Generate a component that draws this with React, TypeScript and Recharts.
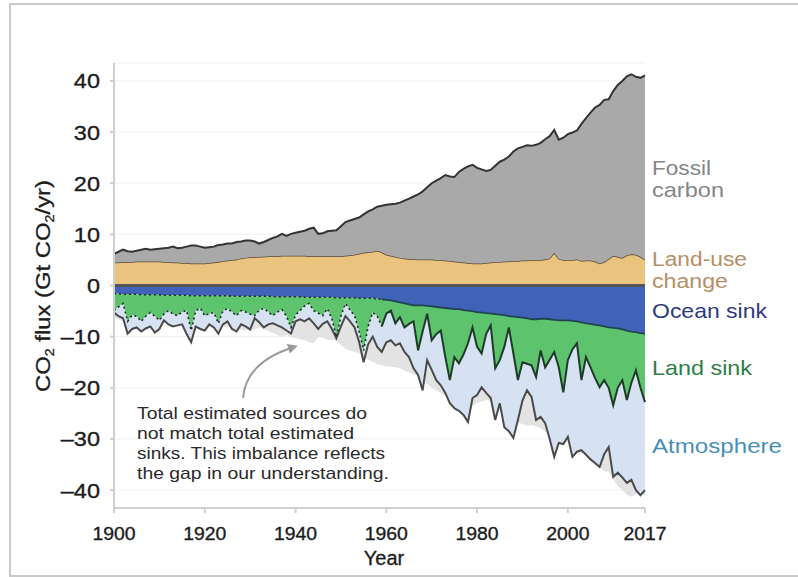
import React from 'react';
import { ComposedChart, Area, Line, XAxis, YAxis, CartesianGrid, ReferenceLine } from 'recharts';

const FONT = '"Liberation Sans", Arial, Helvetica, sans-serif';

const firstYear = 1900;
const directObsYear = 1959;
const xTicks = [1900, 1920, 1940, 1960, 1980, 2000, 2017];
const yTicks = [40, 30, 20, 10, 0, -10, -20, -30, -40];

// Gt CO2 / yr, 1900..2017
const landUseChange = [
  4.5, 4.5, 4.6, 4.6, 4.6, 4.7, 4.7, 4.7, 4.7, 4.7,
  4.7, 4.6, 4.6, 4.5, 4.5, 4.4, 4.4, 4.3, 4.3, 4.3,
  4.3, 4.4, 4.5, 4.6, 4.8, 4.9, 5.0, 5.1, 5.3, 5.4,
  5.5, 5.5, 5.6, 5.6, 5.7, 5.7, 5.7, 5.8, 5.8, 5.8,
  5.8, 5.8, 5.8, 5.7, 5.7, 5.7, 5.7, 5.7, 5.7, 5.7,
  5.7, 5.8, 5.9, 6.0, 6.2, 6.4, 6.5, 6.6, 6.8, 6.5,
  6.0, 5.8, 5.6, 5.4, 5.3, 5.2, 5.2, 5.1, 5.1, 5.1,
  5.1, 5.0, 5.0, 4.9, 4.8, 4.7, 4.6, 4.5, 4.4, 4.3,
  4.3, 4.3, 4.4, 4.5, 4.6, 4.6, 4.7, 4.7, 4.8, 4.8,
  4.9, 4.9, 5.0, 5.0, 5.0, 5.1, 5.3, 6.4, 5.2, 5.0,
  5.0, 5.0, 5.1, 4.8, 4.9, 4.9, 4.7, 4.3, 4.6, 5.2,
  5.8, 5.6, 5.4, 5.9, 6.1, 6.0, 5.6, 5.0,
];

const fossilCarbon = [
  1.7, 2.1, 2.4, 2.1, 2.0, 2.1, 2.3, 2.5, 2.3, 2.4,
  2.5, 2.7, 2.8, 3.1, 2.8, 3.0, 3.2, 3.5, 3.5, 3.3,
  3.1, 3.1, 3.1, 3.3, 3.2, 3.3, 3.2, 3.4, 3.3, 3.4,
  3.3, 3.1, 2.6, 2.9, 3.2, 3.6, 3.9, 4.3, 3.9, 4.3,
  4.5, 4.7, 4.9, 5.4, 5.6, 4.4, 4.5, 4.9, 5.0, 5.1,
  5.9, 6.6, 6.8, 7.0, 7.1, 7.5, 8.0, 8.3, 8.6, 9.1,
  9.8, 10.1, 10.4, 10.8, 11.3, 11.8, 12.2, 12.7, 13.3, 14.1,
  14.9, 15.5, 16.0, 16.7, 16.5, 16.5, 17.6, 18.3, 18.9, 19.3,
  18.7, 18.4, 18.0, 18.1, 18.8, 19.6, 19.9, 20.5, 21.4, 22.0,
  22.2, 22.5, 22.3, 22.5, 22.9, 23.5, 23.9, 24.0, 23.3, 23.9,
  24.6, 24.9, 25.2, 26.8, 27.8, 28.9, 30.1, 31.0, 31.7, 31.2,
  32.2, 33.6, 34.6, 35.0, 35.2, 34.8, 35.0, 36.1,
];

const oceanSink = [
  -1.6, -1.6, -1.7, -1.7, -1.7, -1.7, -1.8, -1.8, -1.8, -1.8,
  -1.8, -1.9, -1.9, -1.9, -1.9, -1.9, -1.9, -2.0, -2.0, -2.0,
  -2.0, -2.0, -2.0, -2.0, -2.0, -2.0, -2.1, -2.1, -2.1, -2.1,
  -2.1, -2.1, -2.1, -2.1, -2.1, -2.2, -2.2, -2.2, -2.2, -2.2,
  -2.2, -2.2, -2.3, -2.3, -2.3, -2.3, -2.3, -2.3, -2.3, -2.4,
  -2.4, -2.4, -2.4, -2.4, -2.5, -2.5, -2.5, -2.5, -2.6, -2.7,
  -2.8, -2.9, -3.1, -3.3, -3.5, -3.7, -3.9, -3.9, -3.9, -4.0,
  -4.1, -4.2, -4.3, -4.4, -4.5, -4.6, -4.6, -4.8, -4.9, -5.0,
  -5.2, -5.3, -5.4, -5.5, -5.6, -5.7, -5.8, -6.0, -6.1, -6.2,
  -6.3, -6.4, -6.6, -6.6, -6.5, -6.5, -6.6, -6.7, -6.8, -6.8,
  -6.8, -6.9, -7.0, -7.2, -7.4, -7.5, -7.7, -7.8, -8.0, -8.2,
  -8.3, -8.4, -8.6, -8.8, -9.0, -9.1, -9.3, -9.4,
];

const landSink = [
  -3.3, -2.6, -1.8, -5.3, -4.1, -4.3, -5.2, -4.2, -3.5, -4.2,
  -5.0, -3.7, -3.0, -3.7, -4.0, -3.3, -3.0, -6.8, -3.0, -2.4,
  -3.9, -3.5, -3.3, -5.4, -3.0, -2.5, -3.1, -3.8, -2.8, -3.1,
  -3.5, -3.8, -2.7, -2.4, -3.1, -3.7, -3.0, -2.5, -3.8, -6.0,
  -3.6, -2.7, -1.7, -1.2, -2.6, -3.1, -3.6, -2.2, -4.2, -7.7,
  -3.6, -1.1, -2.4, -3.5, -6.5, -10.2, -5.5, -2.8, -3.4, -5.3,
  -2.7, -2.0, -4.3, -2.9, -4.7, -3.8, -3.1, -8.8, -5.1, -1.5,
  -6.6, -5.3, -4.5, -9.6, -14.0, -9.4, -10.6, -8.7, -6.4, -3.2,
  -6.8, -8.0, -4.1, -2.3, -10.6, -8.9, -6.2, -2.2, -7.2, -12.3,
  -8.7, -8.9, -9.0, -11.3, -6.2, -9.5, -7.9, -6.3, -9.2, -14.1,
  -7.8, -5.6, -4.3, -11.3, -6.6, -8.5, -10.4, -12.1, -10.5, -11.8,
  -15.1, -11.6, -9.9, -13.6, -10.0, -7.5, -10.7, -13.4,
];

const atmosphere = [
  -0.4, -1.8, -2.9, -2.4, -2.7, -2.2, -2.0, -2.4, -2.7, -3.2,
  -1.7, -1.2, -2.7, -2.4, -1.9, -2.4, -4.6, -2.3, -3.0, -4.1,
  -2.9, -2.1, -2.9, -2.0, -2.6, -2.5, -3.3, -3.1, -2.7, -2.8,
  -3.0, -0.5, -2.4, -3.7, -2.4, -1.5, -2.6, -3.5, -2.8, -1.2,
  -1.2, -1.7, -3.0, -2.9, -2.5, -3.1, -1.6, -2.5, -2.0, -0.2,
  -2.0, -2.5, -2.2, -2.3, -2.0, -2.3, -3.5, -4.7, -6.0, -5.0,
  -5.6, -5.8, -4.3, -5.1, -4.8, -6.5, -9.2, -4.8, -11.5, -9.1,
  -5.8, -9.0, -10.7, -7.0, -4.5, -10.0, -9.3, -11.8, -15.4, -13.8,
  -9.4, -6.6, -11.5, -14.2, -10.1, -8.4, -15.7, -20.3, -16.5, -7.8,
  -7.5, -5.2, -6.2, -8.4, -13.0, -10.9, -15.5, -20.5, -14.8, -10.1,
  -15.0, -21.0, -21.2, -13.7, -19.1, -18.0, -16.6, -15.6, -14.5, -11.6,
  -14.0, -16.6, -19.0, -16.2, -19.0, -23.4, -21.0, -17.2,
];

const data = landUseChange.map((lu, i) => {
  const year = firstYear + i;
  const oceanEdge = oceanSink[i];
  const landEdge = oceanSink[i] + landSink[i];
  return {
    year,
    landUse: lu,
    fossil: fossilCarbon[i],
    ocean: oceanSink[i],
    land: landSink[i],
    atmos: atmosphere[i],
    imbalance: -(lu + fossilCarbon[i]),
    oceanEarly: year <= directObsYear ? oceanEdge : null,
    oceanLate: year >= directObsYear ? oceanEdge : null,
    landEarly: year <= directObsYear ? landEdge : null,
    landLate: year >= directObsYear ? landEdge : null,
  };
});

const fmtY = (v: number) => (v < 0 ? '\u2013' + Math.abs(v) : String(v));

const YTick = (props: any) => {
  const { x, y, payload } = props;
  return (
    <text
      x={x}
      y={y}
      dy="0.355em"
      textAnchor="end"
      fontSize={21}
      fontFamily={FONT}
      fill="#1c1c1c"
      stroke="#1c1c1c"
      strokeWidth={0.35}
      transform={`translate(${x} 0) scale(1.12 1) translate(${-x} 0)`}
    >
      {fmtY(payload.value)}
    </text>
  );
};

const XTick = (props: any) => {
  const { x, y, payload } = props;
  return (
    <text
      x={x}
      y={y}
      dy="0.71em"
      textAnchor="middle"
      fontSize={18.5}
      fontFamily={FONT}
      fill="#1c1c1c"
      stroke="#1c1c1c"
      strokeWidth={0.35}
      transform={`translate(${x} 0) scale(1.05 1) translate(${-x} 0)`}
    >
      {payload.value}
    </text>
  );
};

export default function App() {
  return (
    <div style={{ position: 'absolute', left: 0, top: 0, width: 798, height: 577, background: '#fff', overflow: 'hidden' }}>
      <div
        style={{
          position: 'absolute',
          left: 9,
          top: 3,
          width: 800,
          height: 570,
          borderTop: '2px solid #c9c9c9',
          borderLeft: '2px solid #c9c9c9',
          borderBottom: '2px solid #c9c9c9',
        }}
      />
      <div style={{ position: 'absolute', left: 0, top: 0 }}>
        <ComposedChart
          width={798}
          height={577}
          data={data}
          stackOffset="sign"
          margin={{ top: 63, right: 153, bottom: 29, left: 54 }}
        >
          <CartesianGrid horizontal vertical={false} stroke="#f1f1f1" />
          <XAxis
            dataKey="year"
            type="number"
            domain={[1900, 2017]}
            ticks={xTicks}
            interval={0}
            height={40}
            stroke="#cfcfcf"
            strokeWidth={2}
            tickSize={5}
            tickMargin={14}
            tick={<XTick />}
          />
          <YAxis
            type="number"
            domain={[-43.5, 43.5]}
            ticks={yTicks}
            interval={0}
            width={60}
            stroke="#cfcfcf"
            strokeWidth={2}
            tickSize={4}
            tickMargin={10}
            tick={<YTick />}
          />
          <Area type="linear" dataKey="imbalance" fill="#e3e3e3" fillOpacity={1} stroke="none" isAnimationActive={false} dot={false} activeDot={false} />
          <Area type="linear" dataKey="landUse" stackId="s" fill="#eac47f" fillOpacity={1} stroke="#5a4832" strokeWidth={1.5} isAnimationActive={false} dot={false} activeDot={false} />
          <Area type="linear" dataKey="fossil" stackId="s" fill="#a9a9a9" fillOpacity={1} stroke="#333" strokeWidth={2} isAnimationActive={false} dot={false} activeDot={false} />
          <Area type="linear" dataKey="ocean" stackId="s" fill="#4062b8" fillOpacity={1} stroke="none" isAnimationActive={false} dot={false} activeDot={false} />
          <Area type="linear" dataKey="land" stackId="s" fill="#5dc46d" fillOpacity={1} stroke="none" isAnimationActive={false} dot={false} activeDot={false} />
          <Area type="linear" dataKey="atmos" stackId="s" fill="#d6e2f1" fillOpacity={1} stroke="#4a4a4a" strokeWidth={2} isAnimationActive={false} dot={false} activeDot={false} />
          <Line type="linear" dataKey="oceanEarly" stroke="#1d2a24" strokeWidth={1.6} strokeDasharray="2 3" dot={false} activeDot={false} isAnimationActive={false} connectNulls={false} />
          <Line type="linear" dataKey="oceanLate" stroke="#1f4650" strokeWidth={1.8} dot={false} activeDot={false} isAnimationActive={false} connectNulls={false} />
          <Line type="linear" dataKey="landEarly" stroke="#1d2a24" strokeWidth={1.6} strokeDasharray="2 3" dot={false} activeDot={false} isAnimationActive={false} connectNulls={false} />
          <Line type="linear" dataKey="landLate" stroke="#1f3a2a" strokeWidth={2} dot={false} activeDot={false} isAnimationActive={false} connectNulls={false} />
          <ReferenceLine y={0} stroke="#555" strokeWidth={3} />
        </ComposedChart>
      </div>
      <svg
        width={798}
        height={577}
        style={{ position: 'absolute', left: 0, top: 0, pointerEvents: 'none' }}
        fontFamily={FONT}
      >
        <defs>
          <marker id="arr" viewBox="0 0 10 10" refX="6" refY="5" markerWidth="5" markerHeight="5" orient="auto">
            <path d="M0,0 L10,5 L0,10 z" fill="#9a9a9a" />
          </marker>
        </defs>
        <text
          transform="translate(50,286) rotate(-90)"
          textAnchor="middle"
          fontSize={20}
          fill="#1c1c1c"
          stroke="#1c1c1c"
          strokeWidth={0.3}
          textLength={212}
          lengthAdjust="spacingAndGlyphs"
        >
          CO<tspan fontSize={12} dy={4}>2</tspan>
          <tspan dy={-4}> flux (Gt CO</tspan>
          <tspan fontSize={12} dy={4}>2</tspan>
          <tspan dy={-4}>/yr)</tspan>
        </text>
        <text x={384} y={565} textAnchor="middle" fontSize={20} fill="#1c1c1c" stroke="#1c1c1c" strokeWidth={0.3}>Year</text>

        <text fontSize={21} fill="#858585">
          <tspan x={652} y={175} textLength={59} lengthAdjust="spacingAndGlyphs">Fossil</tspan>
          <tspan x={652} y={197} textLength={72} lengthAdjust="spacingAndGlyphs">carbon</tspan>
        </text>
        <text fontSize={20} fill="#b68f66">
          <tspan x={652} y={266} textLength={95} lengthAdjust="spacingAndGlyphs">Land-use</tspan>
          <tspan x={652} y={288} textLength={76} lengthAdjust="spacingAndGlyphs">change</tspan>
        </text>
        <text x={652} y={318} fontSize={21} fill="#2c3a7e" textLength={115} lengthAdjust="spacingAndGlyphs">Ocean sink</text>
        <text x={652} y={375} fontSize={21} fill="#2e7c48" textLength={100} lengthAdjust="spacingAndGlyphs">Land sink</text>
        <text x={652} y={453} fontSize={21} fill="#4a90b6" textLength={130} lengthAdjust="spacingAndGlyphs">Atmosphere</text>

        <path d="M243,398 Q246,362 294,347" fill="none" stroke="#9a9a9a" strokeWidth={2} markerEnd="url(#arr)" />
        <text fontSize={17} fill="#2a2a2a">
          <tspan x={137} y={419} textLength={230} lengthAdjust="spacingAndGlyphs">Total estimated sources do</tspan>
          <tspan x={137} y={439} textLength={217} lengthAdjust="spacingAndGlyphs">not match total estimated</tspan>
          <tspan x={137} y={459} textLength={248} lengthAdjust="spacingAndGlyphs">sinks. This imbalance reflects</tspan>
          <tspan x={137} y={479} textLength={252} lengthAdjust="spacingAndGlyphs">the gap in our understanding.</tspan>
        </text>
      </svg>
    </div>
  );
}
